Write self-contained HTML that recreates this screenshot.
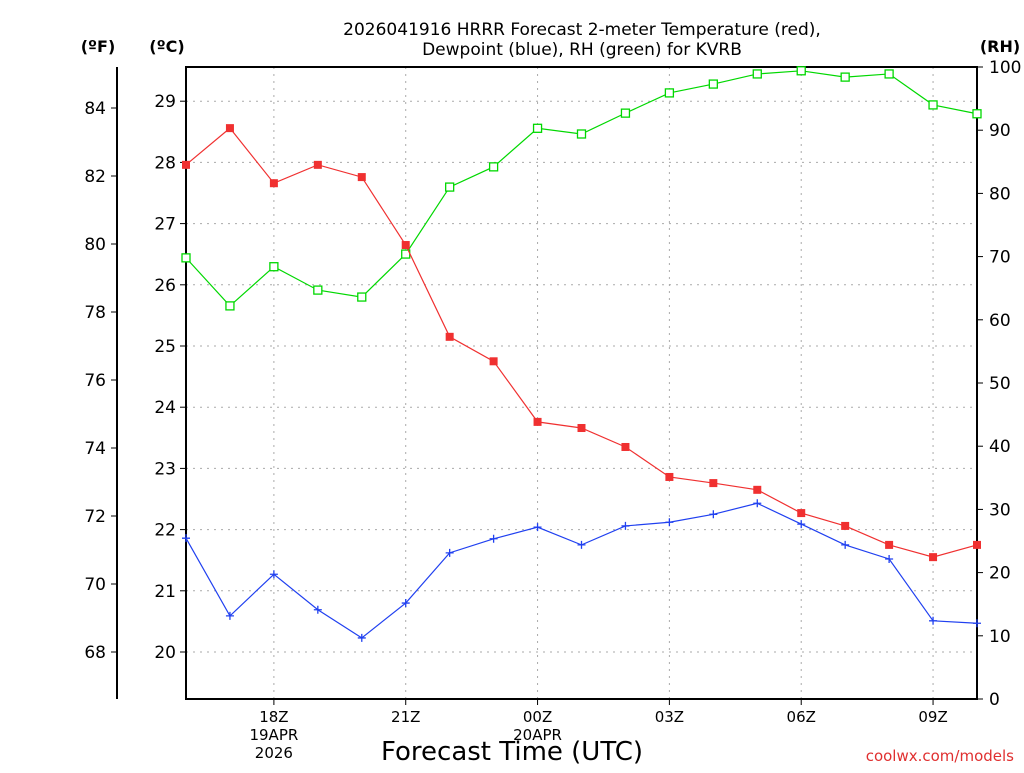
<!DOCTYPE html>
<html><head><meta charset="utf-8"><style>
body{margin:0;background:#fff;width:1024px;height:768px;overflow:hidden}
svg text{font-family:"DejaVu Sans","Liberation Sans",sans-serif}
</style></head><body>
<svg id="chart" width="1024" height="768" viewBox="0 0 1024 768" xmlns="http://www.w3.org/2000/svg">
<g id="static">
<text x="582" y="35" font-size="17" text-anchor="middle">2026041916 HRRR Forecast 2-meter Temperature (red),</text>
<text x="582" y="55" font-size="17" text-anchor="middle">Dewpoint (blue), RH (green) for KVRB</text>
<text x="98" y="52" font-size="16" font-weight="bold" text-anchor="middle">(ºF)</text>
<text x="167" y="52" font-size="16" font-weight="bold" text-anchor="middle">(ºC)</text>
<text x="1000" y="52" font-size="16" font-weight="bold" text-anchor="middle">(RH)</text>
<text x="512" y="760" font-size="26" text-anchor="middle">Forecast Time (UTC)</text>
<text x="1014" y="761" font-size="15" fill="#e03030" text-anchor="end">coolwx.com/models</text>
</g>
<g id="grid"></g>
<g id="axes"></g>
<g id="series"></g>
</svg>
<script>
// data (hours after 16Z)
const hours=[0,1,2,3,4,5,6,7,8,9,10,11,12,13,14,15,16,17,18];
const tempC=[27.96,28.56,27.66,27.96,27.76,26.65,25.15,24.75,23.76,23.66,23.35,22.86,22.76,22.65,22.27,22.06,21.75,21.55,21.75];
const dewC=[21.86,20.59,21.27,20.69,20.23,20.80,21.62,21.85,22.04,21.75,22.06,22.12,22.25,22.43,22.09,21.75,21.52,20.51,20.47];
const rh=[69.8,62.2,68.4,64.7,63.6,70.4,81.0,84.2,90.3,89.4,92.7,95.9,97.3,98.9,99.4,98.4,98.9,94.0,92.6];
const xTickHours=[2,5,8,11,14,17];
const xTickLabels=["18Z","21Z","00Z","03Z","06Z","09Z"];
const cTicks=[20,21,22,23,24,25,26,27,28,29];
const fTicks=[68,70,72,74,76,78,80,82,84];
const rhTicks=[0,10,20,30,40,50,60,70,80,90,100];

const L=186,R=977,T=67,B=699;
const X=h=>L+(R-L)*h/18;
const YC=c=>652-(c-20)*61.2;
const YF=f=>YC((f-32)/1.8);
const YR=r=>B-(B-T)*r/100;
const NS="http://www.w3.org/2000/svg";
function mk(tag,attrs,parent,txt){const e=document.createElementNS(NS,tag);for(const k in attrs)e.setAttribute(k,attrs[k]);if(txt!==undefined)e.textContent=txt;document.getElementById(parent).appendChild(e);return e;}

xTickHours.forEach((h,i)=>{
  const g=mk('line',{x1:X(h),x2:X(h),y1:T,y2:B,stroke:'#aaa','stroke-dasharray':'2,5'},'grid');
  
  
  const t=mk('line',{x1:X(h),x2:X(h),y1:B,y2:B+6,stroke:'#000'},'axes');
  
  
  const lb=mk('text',{x:X(h),y:B+23,'font-size':15,'text-anchor':'middle'},'axes',xTickLabels[i]);
  
  
});
const d1=mk('text',{x:X(2),y:B+41,'font-size':15,'text-anchor':'middle'},'axes','19APR');


const d2=mk('text',{x:X(2),y:B+59,'font-size':15,'text-anchor':'middle'},'axes','2026');


const d3=mk('text',{x:X(8),y:B+41,'font-size':15,'text-anchor':'middle'},'axes','20APR');



cTicks.forEach(c=>{
  const g=mk('line',{x1:L,x2:R,y1:YC(c),y2:YC(c),stroke:'#aaa','stroke-dasharray':'2,5'},'grid');
  
  
  const t=mk('line',{x1:L-6,x2:L,y1:YC(c),y2:YC(c),stroke:'#000'},'axes');
  
  
  const lb=mk('text',{x:L-10,y:YC(c)+6,'font-size':17,'text-anchor':'end'},'axes',c);
  
  
});
fTicks.forEach(f=>{
  const t=mk('line',{x1:111,x2:117,y1:YF(f),y2:YF(f),stroke:'#000'},'axes');
  
  
  const lb=mk('text',{x:106,y:YF(f)+6,'font-size':17,'text-anchor':'end'},'axes',f);
  
  
});
rhTicks.forEach(r=>{
  const t=mk('line',{x1:R,x2:R+6,y1:YR(r),y2:YR(r),stroke:'#000'},'axes');
  
  
  const lb=mk('text',{x:R+12,y:YR(r)+6,'font-size':17},'axes',r);
  
  
});
const fr=mk('rect',{x:L,y:T,width:R-L,height:B-T,fill:'none',stroke:'#000','stroke-width':2},'axes');


const fa=mk('line',{x1:117,x2:117,y1:T,y2:B,stroke:'#000','stroke-width':2},'axes');



function series(vals,yf,color,name,marker){
  const pts=vals.map((v,i)=>X(hours[i])+','+yf(v)).join(' ');
  const pl=mk('polyline',{points:pts,fill:'none',stroke:color,'stroke-width':1.2},'series');
  
  
  vals.forEach((v,i)=>{
    const x=X(hours[i]),y=yf(v);let m;
    if(marker==='fill') m=mk('rect',{x:x-4,y:y-4,width:8,height:8,fill:color},'series');
    else if(marker==='open') m=mk('rect',{x:x-4,y:y-4,width:8,height:8,fill:'#fff',stroke:color,'stroke-width':1.3},'series');
    else m=mk('path',{d:`M${x-4},${y}H${x+4}M${x},${y-4}V${y+4}`,stroke:color,'stroke-width':1.3},'series');
    
    
  });
}
series(rh,YR,'#00d800','rh','open');
series(tempC,YC,'#f03030','temperature','fill');
series(dewC,YC,'#2040f0','dewpoint','plus');
</script>
</body></html>
